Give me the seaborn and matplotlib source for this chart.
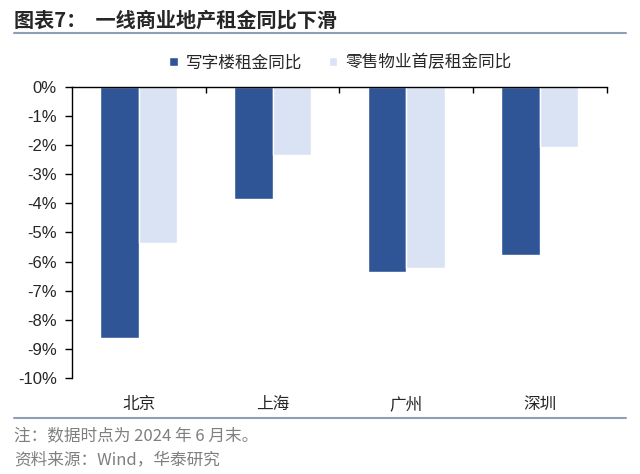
import matplotlib
matplotlib.use("Agg")
import matplotlib.pyplot as plt
import seaborn as sns
import pandas as pd
from matplotlib.ticker import FuncFormatter, FixedLocator

cities = ["北京", "上海", "广州", "深圳"]
series_names = ["写字楼租金同比", "零售物业首层租金同比"]
office = [-8.62, -3.85, -6.36, -5.77]
retail = [-5.35, -2.33, -6.22, -2.06]
colors = ["#2F5597", "#DAE3F3"]

df = pd.DataFrame({
    "city": cities * 2,
    "series": [series_names[0]] * 4 + [series_names[1]] * 4,
    "value": office + retail,
})

sns.set_theme(style="white")
plt.rcParams["font.family"] = ["Liberation Sans", "Noto Sans CJK SC", "DejaVu Sans"]

fig = plt.figure(figsize=(6.4, 4.74), dpi=100)
ax = fig.add_axes([0.1125, 0.2025, 0.8355, 0.614])

sns.barplot(data=df, x="city", y="value", hue="series", palette=colors,
            width=0.575, ax=ax, saturation=1, legend=True)

ax.set_ylim(-10, 0)
ax.set_xlim(-0.5, 3.5)
ax.set_yticks(range(-10, 1))
ax.yaxis.set_major_formatter(FuncFormatter(lambda v, p: f"{int(round(v))}%"))
ax.set_xlabel("")
ax.set_ylabel("")

for s in ["right", "bottom"]:
    ax.spines[s].set_visible(False)
for s in ["left", "top"]:
    ax.spines[s].set_color("#000000")
    ax.spines[s].set_linewidth(1.0)

ax.tick_params(axis="y", which="major", left=True, length=5, width=1, color="black",
               direction="out", labelsize=12, pad=6)
ax.tick_params(axis="x", which="major", bottom=False, top=False, labelsize=12, pad=7)
ax.xaxis.set_minor_locator(FixedLocator([0.5, 1.5, 2.5, 3.5]))
ax.tick_params(axis="x", which="minor", top=True, bottom=False, direction="in",
               length=4, width=1, color="black")
for lab in ax.get_xticklabels():
    lab.set_fontfamily(["Noto Sans CJK SC", "DejaVu Sans"])

leg = ax.legend(loc="center", bbox_to_anchor=(0.532, 0.867), bbox_transform=fig.transFigure,
                ncol=2, frameon=False, handlelength=0.5, handleheight=0.5,
                columnspacing=1.6, handletextpad=0.5,
                prop={"family": ["Noto Sans CJK SC"], "size": 12})

fig.text(0.022, 0.958, "图表7：  一线商业地产租金同比下滑", fontsize=14.5, fontweight="bold",
         family=["Noto Sans CJK SC"], va="center", ha="left")
fig.add_artist(plt.Line2D([0.022, 0.978], [0.931, 0.931], color="#8EA0B8", lw=1.5,
                          transform=fig.transFigure))
fig.add_artist(plt.Line2D([0.022, 0.978], [0.118, 0.118], color="#8EA0B8", lw=1.5,
                          transform=fig.transFigure))
fig.text(0.022, 0.08, "注：数据时点为 2024 年 6 月末。", fontsize=12, color="#7F7F7F",
         family=["Noto Sans CJK SC", "Liberation Sans"], va="center")
fig.text(0.022, 0.03, "资料来源：Wind，华泰研究", fontsize=12, color="#7F7F7F",
         family=["Noto Sans CJK SC", "Liberation Sans"], va="center")

fig.savefig("out.png", dpi=100)
